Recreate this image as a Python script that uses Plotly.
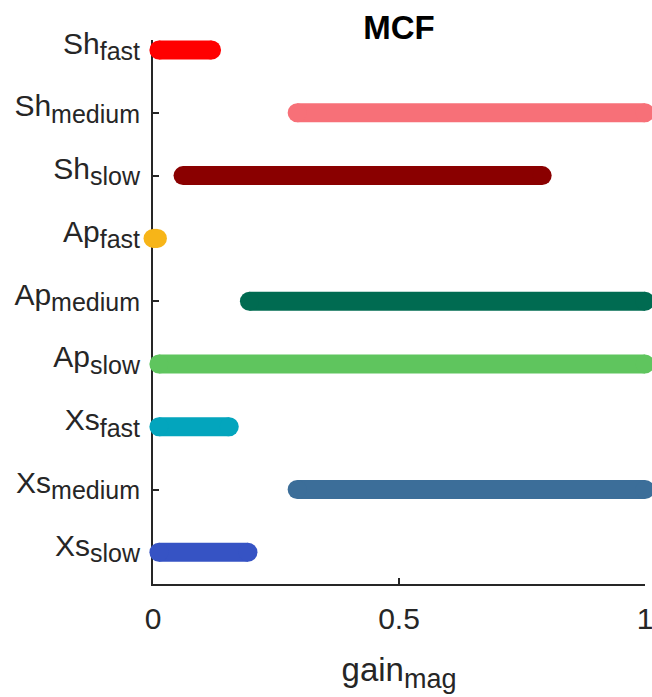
import plotly.graph_objects as go

# ---- data ----
groups = ["Sh", "Sh", "Sh", "Ap", "Ap", "Ap", "Xs", "Xs", "Xs"]
speeds = ["fast", "medium", "slow", "fast", "medium", "slow", "fast", "medium", "slow"]
low_vals = [0.012, 0.293, 0.061, 0.0, 0.196, 0.012, 0.012, 0.293, 0.012]
high_vals = [0.119, 1.0, 0.791, 0.009, 1.0, 1.0, 0.155, 1.0, 0.193]
colors = ["#FF0000", "#F77078", "#8A0000", "#F7B518", "#006B51",
          "#5FC55E", "#03A5BD", "#3C6E99", "#3653C4"]
x_ticks = [0, 0.5, 1]
x_ticktext = ["0", "0.5", "1"]
title_text = "MCF"

FONT = "Liberation Sans, Arial, sans-serif"
TXT = "#262626"
BAR_W = 19

labels = [f'{g}<sub><span style="font-size:25px">{s}</span></sub>'
          for g, s in zip(groups, speeds)]
ypos = list(range(len(labels)))

fig = go.Figure()
for y, lo, hi, c in zip(ypos, low_vals, high_vals, colors):
    fig.add_trace(go.Scatter(
        x=[lo, hi], y=[y, y], mode="lines+markers",
        line=dict(color=c, width=BAR_W),
        marker=dict(color=c, size=BAR_W, symbol="circle", line=dict(width=0)),
        cliponaxis=False, showlegend=False, hoverinfo="skip"))

fig.update_layout(
    width=652, height=697,
    margin=dict(l=153, r=7, t=40, b=113, autoexpand=False),
    paper_bgcolor="white", plot_bgcolor="white",
    font=dict(family=FONT, size=30, color=TXT),
    title=dict(text=f"<b>{title_text}</b>", x=0.5, xref="paper", xanchor="center",
               y=1 - 27 / 697, yref="container", yanchor="middle",
               font=dict(family=FONT, size=33, color="#000000")),
    xaxis=dict(range=[0, 1], tickvals=x_ticks, ticktext=x_ticktext,
               showline=True, linecolor=TXT, linewidth=2,
               ticks="inside", ticklen=6, tickwidth=2, tickcolor=TXT,
               showgrid=False, zeroline=False, layer="below traces",
               automargin=False, ticklabeloverflow="allow",
               tickfont=dict(size=30, color=TXT), ticklabelstandoff=7,
               title=dict(text='gain<sub><span style="font-size:27px">mag</span></sub>',
                          font=dict(size=33, color=TXT), standoff=24)),
    yaxis=dict(range=[8.505, -0.16], tickvals=ypos, ticktext=labels,
               showline=True, linecolor=TXT, linewidth=2,
               ticks="inside", ticklen=6, tickwidth=2, tickcolor=TXT,
               showgrid=False, zeroline=False, layer="below traces",
               automargin=False, ticklabeloverflow="allow",
               tickfont=dict(size=30, color=TXT), ticklabelstandoff=5,
               ticklabelshift=7),
)

fig.write_html("out.html", config={"displayModeBar": False},
               post_script="document.body.style.margin='0';document.body.style.overflow='hidden';")
